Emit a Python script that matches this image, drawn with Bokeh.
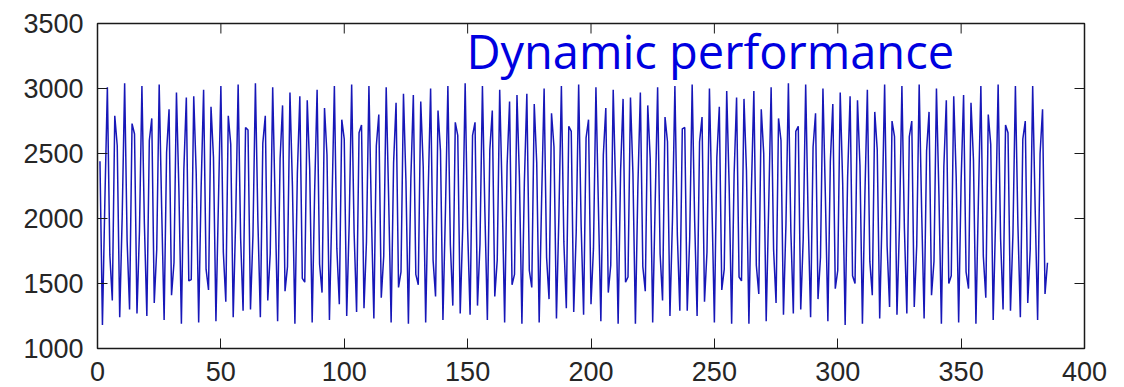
from bokeh.plotting import figure
from bokeh.models import Range1d, FixedTicker, Label
from bokeh.embed import file_html
from bokeh.resources import INLINE

speed = [
    2440, 1180, 2150, 3010, 1720, 1370, 2790,
    2560, 1240, 2010, 3040, 1830, 1300, 2730,
    2650, 1270, 1900, 3020, 1960, 1250, 2600,
    2770, 1350, 1760, 3030, 2080, 1220, 2510,
    2840, 1410, 1660, 2970, 2210, 1190, 2380,
    2930, 1520, 1530, 2940, 2350, 1200, 2240,
    2990, 1610, 1450, 2860, 2470, 1210, 2120,
    3020, 1740, 1360, 2790, 2570, 1240, 1990,
    3030, 1850, 1290, 2700, 2680, 1300, 1870,
    3040, 1980, 1240, 2580, 2790, 1370, 1730,
    3010, 2110, 1210, 2460, 2870, 1440, 1630,
    2970, 2250, 1190, 2350, 2940, 1540, 1510,
    2910, 2380, 1200, 2210, 2990, 1650, 1430,
    2850, 2490, 1220, 2090, 3020, 1770, 1340,
    2760, 2610, 1250, 1960, 3030, 1890, 1280,
    2660, 2720, 1310, 1820, 3020, 2030, 1230,
    2560, 2800, 1390, 1710, 3010, 2150, 1200,
    2430, 2890, 1470, 1590, 2960, 2290, 1190,
    2310, 2950, 1570, 1490, 2900, 2400, 1200,
    2190, 3000, 1680, 1400, 2830, 2520, 1220,
    2050, 3020, 1800, 1330, 2740, 2640, 1270,
    1920, 3040, 1920, 1260, 2640, 2740, 1330,
    1800, 3020, 2050, 1220, 2530, 2830, 1400,
    1680, 2990, 2180, 1200, 2410, 2900, 1490,
    1570, 2950, 2310, 1190, 2280, 2960, 1600,
    1470, 2880,
    2430, 1200, 2160, 3000, 1700, 1380, 2810,
    2550, 1230, 2030, 3020, 1820, 1310, 2710,
    2670, 1280, 1890, 3030, 1950, 1260, 2620,
    2760, 1340, 1770, 3010, 2090, 1210, 2490,
    2850, 1430, 1640, 2990, 2220, 1190, 2370,
    2920, 1510, 1550, 2930, 2340, 1190, 2250,
    2970, 1630, 1440, 2870, 2460, 1200, 2110,
    3010, 1730, 1370, 2780, 2590, 1250, 1980,
    3020, 1870, 1290, 2690, 2700, 1290, 1850,
    3030, 1990, 1250, 2590, 2780, 1360, 1740,
    3000, 2120, 1200, 2470, 2860, 1450, 1610,
    2980, 2240, 1190, 2340, 2930, 1550, 1520,
    2920, 2370, 1190, 2220, 2980, 1640, 1420,
    2840, 2500, 1210, 2080, 3010, 1760, 1350,
    2770, 2600, 1260, 1950, 3040, 1900, 1270,
    2670, 2710, 1300, 1840, 3030, 2010, 1240,
    2550, 2810, 1380, 1700, 3000, 2160, 1210,
    2440, 2880, 1460, 1600, 2970, 2270, 1180,
    2320, 2940, 1560, 1500, 2910, 2410, 1190,
    2180, 2990, 1670, 1410, 2820, 2530, 1230,
    2060, 3030, 1790, 1320, 2750, 2630, 1260,
    1930, 3020, 1930, 1270, 2630, 2750, 1320,
    1790, 3030, 2060, 1230, 2520, 2820, 1410,
    1670, 3000, 2190, 1190, 2400, 2910, 1500,
    1560, 2940, 2320, 1200, 2290, 2950, 1590,
    1460, 2890,
    2450, 1190, 2140, 3020, 1710, 1390, 2800,
    2570, 1220, 2020, 3030, 1840, 1300, 2720,
    2660, 1290, 1880, 3020, 1960, 1240, 2610,
    2750, 1350, 1760, 3020, 2080, 1220, 2500,
    2840, 1420, 1660,
]
sample = list(range(1, len(speed) + 1))

x_ticks = [0, 50, 100, 150, 200, 250, 300, 350, 400]
y_ticks = [1000, 1500, 2000, 2500, 3000, 3500]
title_text = "Dynamic performance"

X0, X1, Y0, Y1 = 0, 400, 1000, 3500
FRAME_W, FRAME_H = 987, 325
TICK_PX = 10

p = figure(width=1124, height=387, output_backend="svg", toolbar_location=None,
           x_range=Range1d(X0, X1), y_range=Range1d(Y0, Y1),
           min_border_left=97, min_border_right=40, min_border_top=23, min_border_bottom=39)
p.background_fill_color = "white"
p.border_fill_color = "white"
p.outline_line_color = "#1a1a1a"
p.outline_line_width = 1.5
p.xgrid.visible = False
p.ygrid.visible = False

p.line(sample, speed, line_color="#1717b8", line_width=1.5)

for ax, ticks, standoff in ((p.xaxis[0], x_ticks, 13), (p.yaxis[0], y_ticks, 14)):
    ax.ticker = FixedTicker(ticks=ticks)
    ax.axis_line_color = None
    ax.major_tick_in = TICK_PX
    ax.major_tick_out = 0
    ax.major_tick_line_color = "#1a1a1a"
    ax.major_tick_line_width = 1
    ax.minor_tick_line_color = None
    ax.major_label_text_font = "Liberation Sans"
    ax.major_label_text_font_size = "27px"
    ax.major_label_text_color = "#262626"
    ax.major_label_standoff = standoff

# inward ticks on the top and right edges of the box (MATLAB style)
dy = TICK_PX * (Y1 - Y0) / FRAME_H
dx = TICK_PX * (X1 - X0) / FRAME_W
p.segment(x0=x_ticks, y0=[Y1] * len(x_ticks), x1=x_ticks, y1=[Y1 - dy] * len(x_ticks),
          line_color="#1a1a1a", line_width=1)
p.segment(x0=[X1] * len(y_ticks), y0=y_ticks, x1=[X1 - dx] * len(y_ticks), y1=y_ticks,
          line_color="#1a1a1a", line_width=1)

p.add_layout(Label(x=149.5, y=3292, text=title_text, text_font="Open Sans",
                   text_font_size="47px", text_color="#0000e0",
                   text_baseline="alphabetic", text_align="left"))

open("out.html", "w").write(file_html(p, INLINE))
